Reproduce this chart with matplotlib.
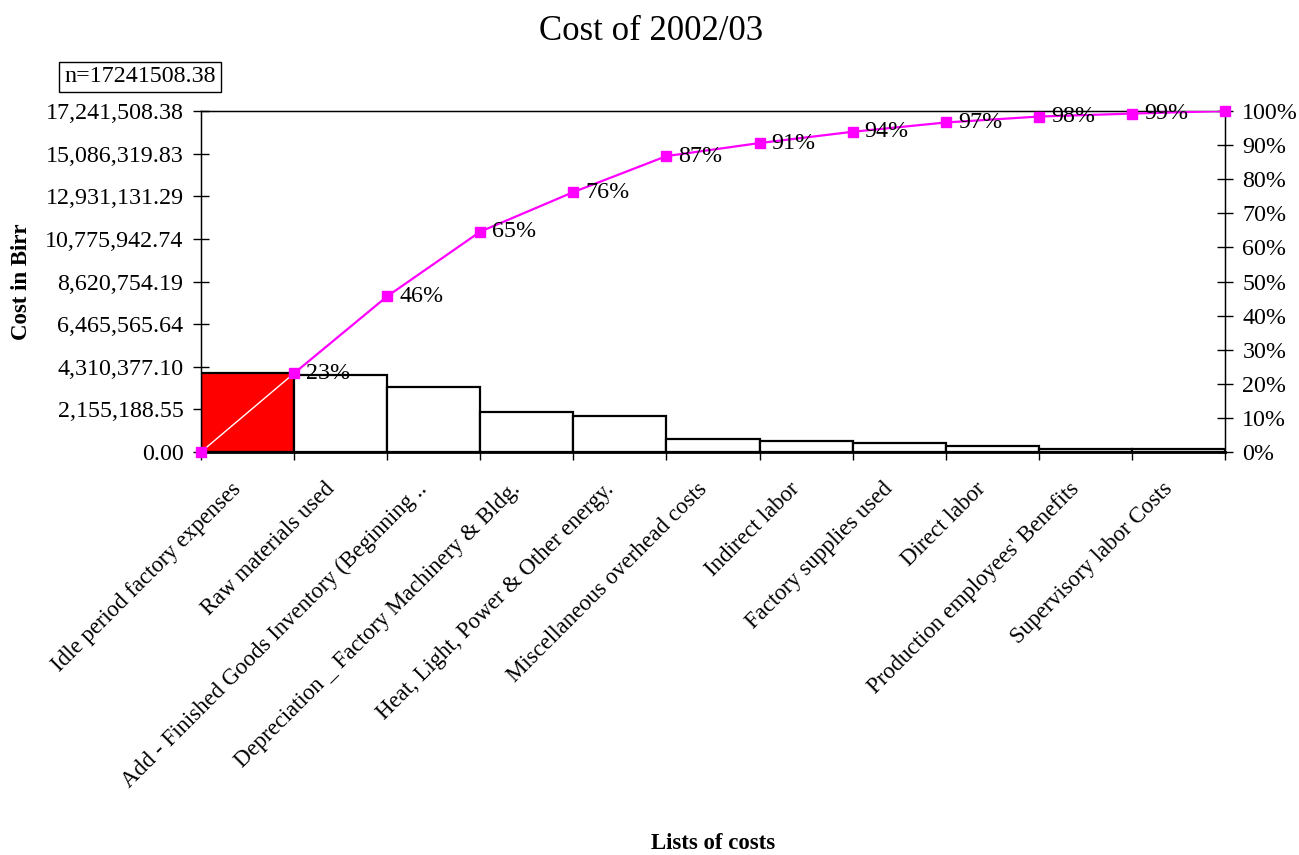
import numpy as np
import matplotlib
matplotlib.use('Agg')
import matplotlib.pyplot as plt
from matplotlib.ticker import FixedLocator, NullFormatter

plt.rcParams['font.family'] = ['Liberation Serif', 'DejaVu Serif']

categories = [
    'Idle period factory expenses',
    'Raw materials used',
    'Add - Finished Goods Inventory (Beginning ..',
    'Depreciation _ Factory Machinery & Bldg.',
    'Heat, Light, Power & Other energy.',
    'Miscellaneous overhead costs',
    'Indirect labor',
    'Factory supplies used',
    'Direct labor',
    "Production employees' Benefits",
    'Supervisory labor Costs',
]
costs = [3980000, 3890000, 3270000, 2000000, 1820000,
         660000, 570000, 470000, 300000, 150000, 131508.38]
total = 17241508.38

cum_pct = np.concatenate([[0], np.cumsum(costs) / total * 100])

fs = 17.3

fig = plt.figure(figsize=(12.99, 8.55), dpi=100)
ax = fig.add_axes([0.1547, 0.4713, 0.7883, 0.3989])

x = np.arange(len(costs))
colors = ['#ff0000'] + ['white'] * (len(costs) - 1)
ax.bar(x + 0.5, costs, width=1.0, color=colors, edgecolor='black', linewidth=1.6, zorder=2)

ax.set_xlim(0, len(costs))
ax.set_ylim(0, total)
yt = [total * k / 8 for k in range(9)]
ax.set_yticks(yt)
ax.set_yticklabels([f'{round(v + 1e-6, 2):,.2f}' for v in yt], fontsize=fs)
ax.tick_params(axis='y', direction='inout', length=11, width=1, pad=7)

# tick marks at the bar edges, names under the bar centres
ax.xaxis.set_major_locator(FixedLocator(np.arange(len(costs) + 1)))
ax.xaxis.set_major_formatter(NullFormatter())
ax.tick_params(axis='x', which='major', direction='out', length=6, width=1)
for i, name in enumerate(categories):
    ax.text(i + 0.5 - 0.18, -0.078, name, transform=ax.get_xaxis_transform(),
            rotation=45, rotation_mode='anchor', ha='right', va='top', fontsize=16.4)

for s in ax.spines.values():
    s.set_linewidth(1)
ax.spines['bottom'].set_linewidth(2)

ax.set_ylabel('Cost in Birr', fontsize=16.5, fontweight='bold')
ax.yaxis.set_label_coords(-0.165, 0.5)
fig.text(0.549, 0.014, 'Lists of costs', ha='center', va='center',
         fontsize=16.5, fontweight='bold')

# cumulative percentage on the right axis
ax2 = ax.twinx()
ax2.set_ylim(0, 100)
ax2.set_yticks(np.arange(0, 101, 10))
ax2.set_yticklabels([f'{v}%' for v in range(0, 101, 10)], fontsize=fs)
ax2.tick_params(axis='y', direction='inout', length=11, width=1, pad=7)
ax2.plot(x[:2], cum_pct[:2], color='white', linewidth=1, zorder=3)
ax2.plot(np.arange(1, len(costs) + 1), cum_pct[1:], color='#ff00ff', linewidth=1.6, zorder=3)
ax2.plot(np.arange(len(costs) + 1), cum_pct, linestyle='none', marker='s',
         markersize=7.5, color='#ff00ff', zorder=4, clip_on=False)
for i in range(1, len(costs)):
    ax2.text(i + 0.13, cum_pct[i], f'{cum_pct[i]:.0f}%', fontsize=fs,
             ha='left', va='center', zorder=5)

fig.text(0.501, 0.963, 'Cost of 2002/03', ha='center', va='center', fontsize=25)
fig.text(0.1078, 0.91, f'n={total:.2f}', ha='center', va='center', fontsize=fs,
         bbox=dict(boxstyle='square,pad=0.2', facecolor='white', edgecolor='black', linewidth=1))

fig.savefig('out.png', dpi=100)
